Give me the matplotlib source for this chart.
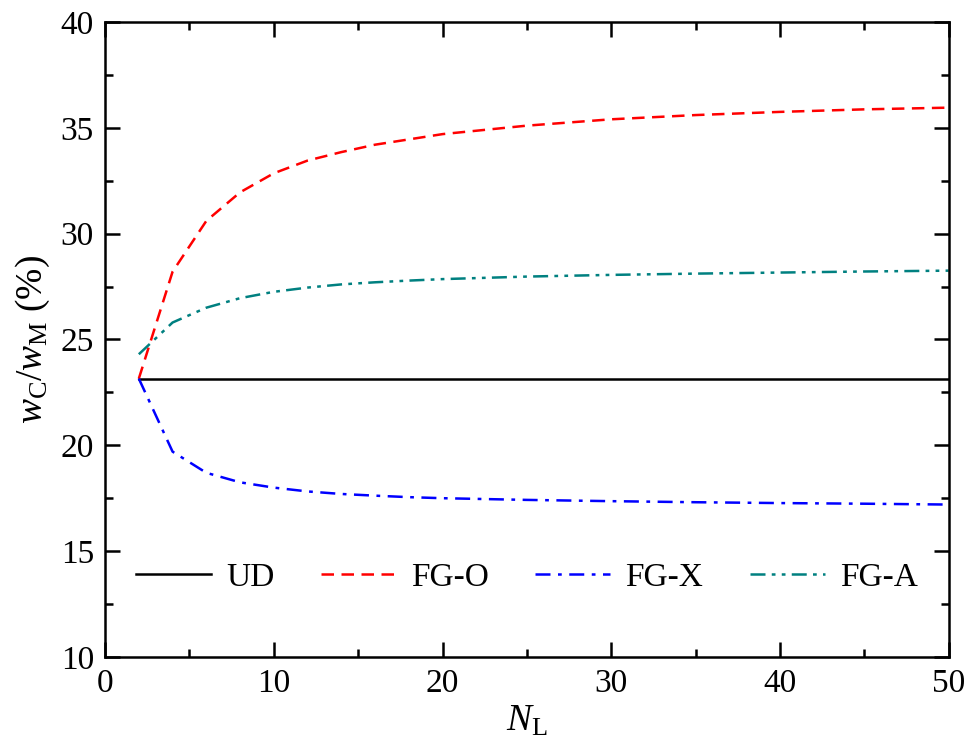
import matplotlib
matplotlib.use("Agg")
import matplotlib.pyplot as plt
from matplotlib.ticker import MultipleLocator

plt.rcParams['font.family'] = 'serif'
plt.rcParams['font.serif'] = ['Liberation Serif', 'DejaVu Serif']
plt.rcParams['mathtext.fontset'] = 'custom'
plt.rcParams['mathtext.rm'] = 'Liberation Serif'
plt.rcParams['mathtext.it'] = 'Liberation Serif:italic'

N = [2, 4, 6, 8, 10, 12, 14, 16, 18, 20, 25, 30, 35, 40, 45, 50]
ud = [23.15] * len(N)
fg_o = [23.15, 28.2, 30.6, 31.95, 32.85, 33.45, 33.85, 34.2, 34.45, 34.7, 35.1, 35.4, 35.6, 35.75, 35.87, 35.95]
fg_x = [23.15, 19.7, 18.7, 18.25, 18.0, 17.82, 17.7, 17.62, 17.55, 17.5, 17.42, 17.36, 17.31, 17.27, 17.24, 17.2]
fg_a = [24.3, 25.8, 26.5, 26.95, 27.25, 27.45, 27.6, 27.7, 27.78, 27.85, 27.97, 28.05, 28.11, 28.16, 28.21, 28.25]

fig = plt.figure(figsize=(9.73, 7.56), dpi=100)
ax = fig.add_axes([0.108, 0.131, 0.867, 0.840])

ax.plot(N, ud, color='black', lw=1.8, ls='-', label='UD')
ax.plot(N, fg_o, color='red', lw=1.8, ls=(0, (5, 3)), label='FG-O')
ax.plot(N, fg_x, color='blue', lw=1.8, ls=(0, (6, 3, 1.5, 3)), label='FG-X')
ax.plot(N, fg_a, color='#008080', lw=1.8, ls=(0, (6, 2.5, 1.5, 2.5, 1.5, 2.5)), label='FG-A')

ax.set_xlim(0, 50)
ax.set_ylim(10, 40)
ax.xaxis.set_major_locator(MultipleLocator(10))
ax.xaxis.set_minor_locator(MultipleLocator(5))
ax.yaxis.set_major_locator(MultipleLocator(5))
ax.yaxis.set_minor_locator(MultipleLocator(2.5))
ax.tick_params(which='both', direction='in', top=True, right=True, width=1.8, labelsize=24)
ax.tick_params(which='major', length=11, pad=8)
ax.tick_params(which='minor', length=6)
for s in ax.spines.values():
    s.set_linewidth(1.8)

ax.set_xlabel(r'$N_{\mathrm{L}}$', fontsize=27, labelpad=4)
ax.set_ylabel(r'$w_{\mathrm{C}}/w_{\mathrm{M}}$ (%)', fontsize=27, labelpad=6)

ax.legend(loc='center', bbox_to_anchor=(0.5, 0.125), ncol=4, frameon=False,
          fontsize=24, handlelength=2.25, columnspacing=1.4, handletextpad=0.45,
          borderaxespad=0, borderpad=0)

fig.savefig('out.png', dpi=100)
